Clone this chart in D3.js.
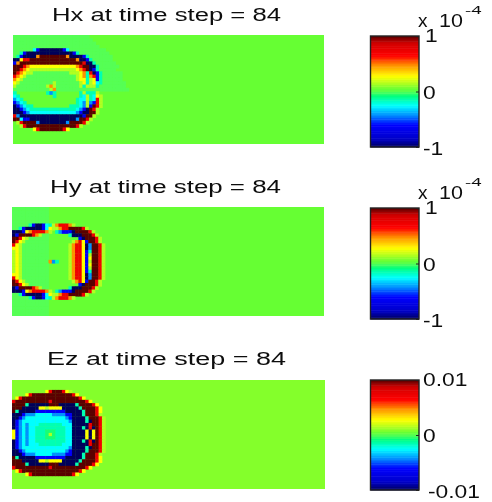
<!DOCTYPE html>
<html><head><meta charset="utf-8">
<style>html,body{margin:0;padding:0;background:#fff}svg{display:block}text{font-family:"Liberation Sans",Arial,sans-serif;fill:#111}</style>
<script src="https://cdnjs.cloudflare.com/ajax/libs/d3/7.8.5/d3.min.js"></script>
</head><body><svg id="c" width="492" height="502"></svg>
<script>
const titles=["Hx at time step = 84","Hy at time step = 84","Ez at time step  = 84"];
const tickValues=[[-1,0,1],[-1,0,1],[-1,0,1]];
const tickLabels=[["-1","0","1"],["-1","0","1"],["-0.01","0","0.01"]];
const backgroundValues=[0.05,0.05,0.09];
const levelKeys=   [",",  "e",  "T",  "C",  "S",  "B",  "N", "g", "Y", "O", "R", "D"];
const levelValues= [0.0,-0.06,-0.15,-0.25,-0.42,-0.62,-1.0,0.15,0.28,0.48,0.72,1.0];
const hxRows=[
",,,,,,,,,,,,,,,,,,,,,,,",
",,,,,,,,,,,,,,,,,,,,,,,,",
",,,,,,,,,,,,,,,,,,,,,,,,,",
",,,,,,,,,,,,,,,,,,,,,,,,,,",
",,,,,,CBNNNNNNNBC,,,,,,,,,,,",
",,TBNNNNNNNNNNNNNNBT,,,,,,,,,",
",TBNNNNODDDDDDDDONNNNBT,,,,,,,",
"NNYRRDDDDDDDDDDDDDDONNBT,,,,,,",
"BODDDDDDDDDDDDDDDDDDDRNNT,,,,,,",
"DDDROYYYYYYYYYYYYYYORDDNNT,,,,,,",
"DDROYggggggggggggggYORDNBT,,,,,",
"DROYgg,,,,,,,,,,,gggYOTRNBT,,,,,,",
"ROYg,,,,,,,,,,,,,,,gYOTORBT,,,,,,",
"OYg,,,,,,,,,,,,,,,,gYYTgYBT,,,,,,",
"Yg,,,,,,,,,,g,,,,,,,gYTgYCT,,,,,,,",
"g,,,,,,,,,gOg,,,,,,,gTgggT,,,,,,,,",
",,,,,,,,,,,gO,,,,,,,,,,,,,,,,,,,,,,",
"T.........TST.......TgTTTg",
"CT..........T.......TCgTCYg",
"SCT................TCCgTCRg",
"BSCT...............TCSgSBRg",
"NBSCTT...........TTTCSgBDRg",
"NNBSCTTTTTTTTTTTTTTCSBNDRg",
"NNNBSCCCCCCCCCCCCCCSBNNDDg",
"RSNNNNNNNNNNNNNNNNNNNBDDg",
"DDCBBNNNNNNNNNNNNNNSDDRg",
".gRDDDDSNNNNNNNNSDDDDRg",
"..gRDDDDDDDDDDDDDDDRg",
"......YRDDDDDDDRY",
"","","",""
];
const hyRows=[
",,,,,,,,,,,",",,,,,,,,,,,",",,,,,,,,,,,",",,,,,,,,,,,",",,,,,,,,,,,",
",,,,,TBNNBCTgORRROg",
",,TBNNNNNBCYggORRDDDDRg",
"NNNBYORRRROg.TSBBBNDDDDRg",
"NBDDDDROg,,......TNNNDDDRg",
"DDRYg,,,,,,.........BNDDDRg",
"DRYg,,,,,,,.......gORYBDDRg",
"RYg,,,,,,,,......gORRYNSDDRg",
"YYg,,,,,,,,......gORRYNSDDRg",
"gYg,,,,,,,,......gORRYBTDDRg",
"gYg,,,,,,,,......gORRYBgDDRg",
"gYg,,,,,,,,......gORRYBYDDRg",
"gYg,,,,,,,,OST...gORRYBgDDRg",
"gYg,,,,,,,,......gORRYBYDDRg",
"gYg,,,,,,,,......gORRYBgDDRg",
"gYg,,,,,,,,......gORRYBTDDRg",
"YYg,,,,,,,,......gORRYNSDDRg",
"RYg,,,,,,,,......gORRYNSDDRg",
"DRYg,,,,,,,.......gORYBDDRg",
"DDRYg,,,,,,.........BNDDDRg",
"NBDDDDROg,,......TNNNDDDRg",
"NNNBYORRRROg.TSBBBNDDDDRg",
",,TBNNNNNBCYggORRDDDDRg",
",,,,,TBNNBCTgORRROg",
",,,,,,,,,,,",",,,,,,,,,,,",",,,,,,,,,,,",",,,,,,,,,,,",",,,,,,,,,,,"
];
const ezRows=[
"","","",
"..........YRDDDRYg",
"....YRDDDDDDDDDDDDRY",
".YRDDDDDDDDDDDDDDDDDRY",
"RDDDDDDDDDDRDDDDDDDDDDRY",
"DDDDTNNNNNNDDDNNNNNTDDDDRY",
"DDDNNNNNYYgYYYYNNNNNTDDDDRY",
"DTNNNNNBBBBBBBBBNNNNNTDDDRY",
"NNNBSSSCCCCCSSSSBBNNNTDDDRg",
"NNBSCCCCCCCCCCCCSBNNNNTDDDRg",
"NBSCCCCCCCCCCCCCCSNNNNTNDDRg",
"NBSCSCCCTTTTTTTCCCNNNNNRDDRg",
"NBSCSCCTTTTTTTTTCCNNNTNRNDRg",
"YBSCSCCTTTeeeTTTCCNNNNYNYDRg",
"YBSCSCCTTTegeTTTCCNNNNYNYDRg",
"YBSCSCCTTTeeeTTTCCNNNNYNYDRg",
"NBSCSCCTTTTTTTTTCCNNNTNRNDRg",
"NBSCSCCCTTTTTTTCCCNNNNNRDDRg",
"NBSCCCCCCCCCCCCCCSNNNNTNDDRg",
"NNBSCCCCCCCCCCCCSBNNNNTDDDRg",
"NNNBSSSCCCCCSSSSBBNNNTDDDRg",
"DTNNNNNBBBBBBBBBNNNNNTDDDRY",
"DDDNNNNNYYgYYYYNNNNNTDDDDRY",
"DDDDTNNNNNNDDDNNNNNTDDDDRY",
"RDDDDDDDDDDRDDDDDDDDDDRY",
".YRDDDDDDDDDDDDDDDDDRY",
"....YRDDDDDDDDDDDDRY",
"","","",""
];
const fields=[hxRows,hyRows,ezRows];
const colorStops=[-1,-0.85,-0.6,-0.42,-0.25,-0.08,0,0.05,0.15,0.28,0.48,0.65,0.88,1];
const colorValues=["#00005a","#0000c8","#0000ff","#0090ff","#00ffff","#00ff80","#55ff55","#66ff33","#b0ff20","#ffff00","#ff9000","#ff0000","#d00000","#5a0000"];
const cols=d3.range(94), rowsIdx=d3.range(33);
const plotX=[[13,324],[12,324],[12,325]], plotY=[[35,144],[207,316],[380,489]];
const barX=[370.5,419], barY=[[36,147],[208,319],[380,490]];
const titleX=[[52,281],[50,281],[47,286]], titleY=[21,193,365];
const levelOf=new Map(levelKeys.map((k,i)=>[k,levelValues[i]]));
const color=d3.scaleLinear().domain(colorStops).range(colorValues).clamp(true);
const svg=d3.select("#c");
const defs=svg.append("defs");
defs.append("filter").attr("id","soft").attr("x","-5%").attr("y","-5%").attr("width","110%").attr("height","110%")
  .append("feGaussianBlur").attr("stdDeviation",0.7);
defs.append("filter").attr("id","softText").attr("x","-10%").attr("y","-30%").attr("width","120%").attr("height","160%")
  .append("feGaussianBlur").attr("stdDeviation",0.4);
function stretch(sel,factor){sel.each(function(){const l=this.getComputedTextLength();d3.select(this).attr("textLength",l*factor).attr("lengthAdjust","spacingAndGlyphs");});}
fields.forEach((rows,p)=>{
  const x=d3.scaleBand().domain(cols).range(plotX[p]);
  const y=d3.scaleBand().domain(rowsIdx).range(plotY[p]);
  const cid="clip"+p;
  defs.append("clipPath").attr("id",cid).append("rect").attr("x",plotX[p][0]).attr("y",plotY[p][0])
    .attr("width",plotX[p][1]-plotX[p][0]).attr("height",plotY[p][1]-plotY[p][0]);
  const bgc=color(backgroundValues[p]);
  svg.append("rect").attr("x",plotX[p][0]).attr("y",plotY[p][0]).attr("width",plotX[p][1]-plotX[p][0]).attr("height",plotY[p][1]-plotY[p][0]).attr("fill",bgc);
  const cells=[];
  rows.forEach((s,r)=>{[...s].forEach((ch,c)=>{if(ch!=="."&&levelOf.has(ch))cells.push({r,c,v:levelOf.get(ch)});});});
  svg.append("g").attr("clip-path",`url(#${cid})`).append("g").attr("filter","url(#soft)")
    .selectAll("rect").data(cells).join("rect")
    .attr("x",d=>x(d.c)).attr("y",d=>y(d.r))
    .attr("width",x.bandwidth()+0.4).attr("height",y.bandwidth()+0.4)
    .attr("fill",d=>color(d.v));
  const t=svg.append("text").attr("x",titleX[p][0]).attr("y",titleY[p]).attr("font-size",17.5).text(titles[p]);
  t.attr("textLength",titleX[p][1]-titleX[p][0]).attr("lengthAdjust","spacingAndGlyphs");
  const by=d3.scaleLinear().domain([-1,1]).range([barY[p][1],barY[p][0]]);
  const levels=d3.range(64).map(i=>-1+2*i/64);
  svg.append("g").selectAll("rect").data(levels).join("rect")
    .attr("x",barX[0]).attr("width",barX[1]-barX[0])
    .attr("y",d=>by(d+2/64)).attr("height",by(-1)-by(-1+2/64)+0.5)
    .attr("fill",d=>color(d+1/64));
  svg.append("rect").attr("x",barX[0]).attr("y",barY[p][0]).attr("width",barX[1]-barX[0]).attr("height",barY[p][1]-barY[p][0])
    .attr("fill","none").attr("stroke","#222").attr("stroke-width",1.4);
  const ax=d3.axisRight(by).tickValues(tickValues[p]).tickFormat((d,i)=>tickLabels[p][i]).tickSize(-3).tickPadding(5);
  const g=svg.append("g").attr("transform",`translate(${barX[1]},0)`).call(ax);
  g.select(".domain").remove();
  g.selectAll("line").attr("stroke","#222");
  g.selectAll("text").attr("font-size",19).attr("fill","#111").attr("x",d=>d===-1&&p===2?9:d===1&&p<2?6:4).call(stretch,1.2);
  g.selectAll(".tick text").attr("dy",d=>d===1?"0.30em":d===-1?"0.42em":"0.36em");
  if(p<2){
    const base=barY[p][0];
    svg.append("text").attr("x",418).attr("y",base-9).attr("font-size",19).text("x");
    svg.append("text").attr("x",439).attr("y",base-9).attr("font-size",19).text("10").call(stretch,1.13);
    svg.append("text").attr("x",465).attr("y",base-22).attr("font-size",11).text("-4").call(stretch,1.7);
  }
});
svg.selectAll("text").attr("filter","url(#softText)");
</script></body></html>
